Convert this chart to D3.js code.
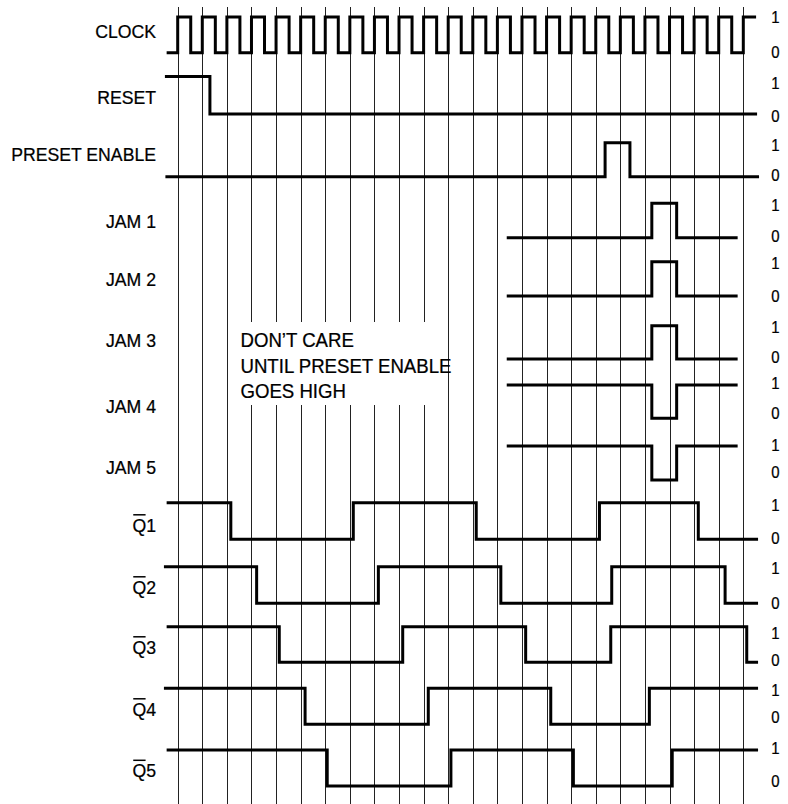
<!DOCTYPE html>
<html>
<head>
<meta charset="utf-8">
<script src="https://cdn.jsdelivr.net/npm/d3@7/dist/d3.min.js"></script>
<style>
  html, body { margin: 0; padding: 0; background: #fff; }
  svg { display: block; }
  text { font-family: "Liberation Sans", Arial, sans-serif; fill: #000; stroke: #000; stroke-width: 0.25; }
</style>
</head>
<body>
<svg id="chart" width="788" height="804"></svg>
<script>
// ---- data (time in clock periods; level 1 = high, 0 = low) ----
const signalNames = ["CLOCK", "RESET", "PRESET ENABLE", "JAM 1", "JAM 2", "JAM 3", "JAM 4", "JAM 5", "Q1", "Q2", "Q3", "Q4", "Q5"];
const invertedBar = [false, false, false, false, false, false, false, false, true, true, true, true, true];

const clockWave = [[-0.45,0],[0,1],[0.53,0],[1,1],[1.53,0],[2,1],[2.53,0],[3,1],[3.53,0],[4,1],[4.53,0],[5,1],[5.53,0],
  [6,1],[6.53,0],[7,1],[7.53,0],[8,1],[8.53,0],[9,1],[9.53,0],[10,1],[10.53,0],[11,1],[11.53,0],[12,1],[12.53,0],
  [13,1],[13.53,0],[14,1],[14.53,0],[15,1],[15.53,0],[16,1],[16.53,0],[17,1],[17.53,0],[18,1],[18.53,0],
  [19,1],[19.53,0],[20,1],[20.53,0],[21,1],[21.53,0],[22,1],[22.53,0],[23,1],[23.52,1]];
const resetWave  = [[-0.52,1],[1.31,0],[23.56,0]];
const presetWave = [[-0.5,0],[17.38,1],[18.39,0],[23.64,0]];
const jam1Wave   = [[13.38,0],[19.28,1],[20.29,0],[22.77,0]];
const jam2Wave   = [[13.38,0],[19.28,1],[20.29,0],[22.77,0]];
const jam3Wave   = [[13.38,0],[19.28,1],[20.29,0],[22.77,0]];
const jam4Wave   = [[13.38,1],[19.28,0],[20.29,1],[22.77,1]];
const jam5Wave   = [[13.38,1],[19.28,0],[20.29,1],[22.77,1]];
const q1Wave = [[-0.45,1],[2.16,0],[7.14,1],[12.14,0],[17.15,1],[21.17,0],[23.6,0]];
const q2Wave = [[-0.56,1],[3.21,0],[8.16,1],[13.14,0],[17.65,1],[22.26,0],[23.6,0]];
const q3Wave = [[-0.45,1],[4.13,0],[9.15,1],[14.15,0],[17.61,1],[23.14,0],[23.6,0]];
const q4Wave = [[-0.56,1],[5.18,0],[10.19,1],[15.17,0],[19.18,1],[23.6,1]];
const q5Wave = [[-0.45,1],[6.08,0],[11.11,1],[16.09,0],[20.11,1],[23.6,1]];
const waves = [clockWave, resetWave, presetWave, jam1Wave, jam2Wave, jam3Wave, jam4Wave, jam5Wave,
               q1Wave, q2Wave, q3Wave, q4Wave, q5Wave];

const gridTimes = [0,1,2,3,4,5,6,7,8,9,10,11,12,13,14,15,16,17,18,19,20,21,22,23];
const levelLabels = ["1", "0"];
const noteLines = ["DON\u2019T CARE", "UNTIL PRESET ENABLE", "GOES HIGH"];
const noteSpan = [2.1, 10.95]; // gap in grid (time units) covered by the note

// ---- layout ----
const rowHighY = [17, 76.5, 142.7, 203.3, 261.7, 325.7, 385, 446, 502.7, 566.7, 626.7, 688.3, 750];
const rowLowY  = [52.7, 114, 176.7, 237.7, 296, 359, 418.3, 480, 539.3, 603.3, 662.3, 724.3, 786];
const nameY    = [31, 97.5, 154, 221, 279, 340, 406, 467, 525, 587, 647, 709, 770.5];
const oneY     = [17, 83, 145.5, 205.5, 263, 327, 383.3, 445, 505, 568.3, 632.7, 690, 748.3];
const zeroY    = [52.5, 116, 175, 236.5, 296, 357.5, 413.3, 472.5, 538.3, 602.7, 660, 717.3, 780.7];

const svg = d3.select("#chart");
const x = d3.scaleLinear().domain([0, 23]).range([177.7, 743.3]);

// grid lines
svg.append("g").selectAll("line").data(gridTimes).join("line")
  .attr("x1", d => Math.round(x(d)) + 0.5).attr("x2", d => Math.round(x(d)) + 0.5)
  .attr("y1", 7).attr("y2", 804)
  .attr("stroke", "#222").attr("stroke-width", 1);

// note box (blanks the grid)
svg.append("rect")
  .attr("x", x(noteSpan[0])).attr("width", x(noteSpan[1]) - x(noteSpan[0]))
  .attr("y", 322).attr("height", 83)
  .attr("fill", "#fff");
svg.append("g").selectAll("text").data(noteLines).join("text")
  .attr("transform", (d, i) => `translate(240.5,${347 + i * 25.7}) scale(0.955,1)`)
  .attr("font-size", 19.5).text(d => d);

// waveforms
waves.forEach((w, i) => {
  const y = d3.scaleLinear().domain([0, 1]).range([rowLowY[i], rowHighY[i]]);
  const line = d3.line().x(d => x(d[0])).y(d => y(d[1])).curve(d3.curveStepAfter);
  svg.append("path").datum(w)
    .attr("d", line)
    .attr("fill", "none").attr("stroke", "#000").attr("stroke-width", 3)
    .attr("stroke-linejoin", "miter").attr("stroke-linecap", "butt");
});

// right-side 1/0 labels
signalNames.forEach((n, i) => {
  svg.append("g").selectAll("text").data(levelLabels).join("text")
    .attr("transform", (d, j) => `translate(775.5,${j === 0 ? oneY[i] : zeroY[i]}) scale(0.88,1)`)
    .attr("text-anchor", "middle").attr("dominant-baseline", "central")
    .attr("font-size", 17).text(d => d);
});

// left signal names
const sx = 0.93;
signalNames.forEach((n, i) => {
  const cy = nameY[i];
  const t = svg.append("text")
    .attr("transform", `translate(156,${cy}) scale(${sx},1)`)
    .attr("text-anchor", "end").attr("dominant-baseline", "central")
    .attr("font-size", 19).text(n);
  if (invertedBar[i]) {
    const node = t.node();
    const total = node.getComputedTextLength() * sx;
    const qw = node.getSubStringLength(0, 1) * sx;
    const x0 = 156 - total;
    svg.append("line")
      .attr("x1", x0 + 0.8).attr("x2", x0 + qw - 0.6)
      .attr("y1", cy - 10.2).attr("y2", cy - 10.2)
      .attr("stroke", "#000").attr("stroke-width", 1.5);
  }
});
</script>
</body>
</html>
